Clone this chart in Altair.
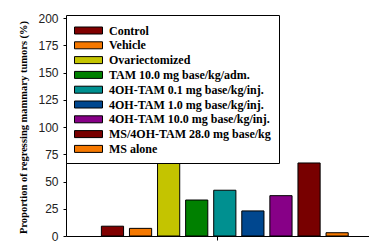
import altair as alt
import pandas as pd

treatments = [
    "Control",
    "Vehicle",
    "Ovariectomized",
    "TAM 10.0 mg base/kg/adm.",
    "4OH-TAM 0.1 mg base/kg/inj.",
    "4OH-TAM 1.0 mg base/kg/inj.",
    "4OH-TAM 10.0 mg base/kg/inj.",
    "MS/4OH-TAM 28.0 mg base/kg",
    "MS alone",
]
values = [9, 7, 100, 33, 42, 23, 37, 67, 3]
colors = ["#800000", "#f57800", "#c4c400", "#008000", "#009090",
          "#00478f", "#870087", "#780000", "#f57800"]
y_ticks = [0, 25, 50, 75, 100, 125, 150, 175, 200]

df = pd.DataFrame({"group": ["all"] * len(treatments),
                   "treatment": treatments,
                   "value": values})

chart = alt.Chart(df).mark_bar(stroke="black", strokeWidth=1).encode(
    x=alt.X("group:N", title=None,
            scale=alt.Scale(paddingInner=0, paddingOuter=0),
            axis=alt.Axis(labels=False, ticks=True, tickSize=4,
                          tickColor="black", domainColor="black", domainWidth=1.2)),
    xOffset=alt.XOffset("treatment:N", sort=treatments,
                        scale=alt.Scale(paddingInner=0.21, paddingOuter=1, align=0.63)),
    y=alt.Y("value:Q",
            title="Proportion of regressing mammary tumors (%)",
            scale=alt.Scale(domain=[0, 200], nice=False),
            axis=alt.Axis(values=y_ticks, grid=False, tickSize=3, labelPadding=5,
                          tickColor="black", domainColor="black", domainWidth=1,
                          labelFont="Liberation Sans", labelFontSize=12, labelColor="#222",
                          titleFont="Liberation Serif", titleFontSize=10.5,
                          titleFontWeight="bold", titleColor="black", titlePadding=9)),
    color=alt.Color("treatment:N", sort=treatments,
                    scale=alt.Scale(domain=treatments, range=colors),
                    legend=alt.Legend(title=None, orient="none", legendX=0, legendY=-3,
                                      direction="vertical",
                                      symbolType="M-1,-0.5L3,-0.5L3,0.5L-1,0.5Z",
                                      symbolSize=196, symbolStrokeColor="black",
                                      symbolStrokeWidth=1, symbolOpacity=1,
                                      labelFont="Liberation Serif", labelFontSize=12,
                                      labelFontWeight="bold", labelColor="black",
                                      labelLimit=300, labelOffset=20, rowPadding=0.8,
                                      padding=8, strokeColor="black", fillColor="white")),
).properties(
    width=303, height=218,
    autosize=alt.AutoSizeParams(type="none"),
    padding={"left": 58, "top": 10, "right": 0, "bottom": 10},
).configure_view(stroke=None)

chart.save("out.html", embed_options={"renderer": "svg", "actions": False})
